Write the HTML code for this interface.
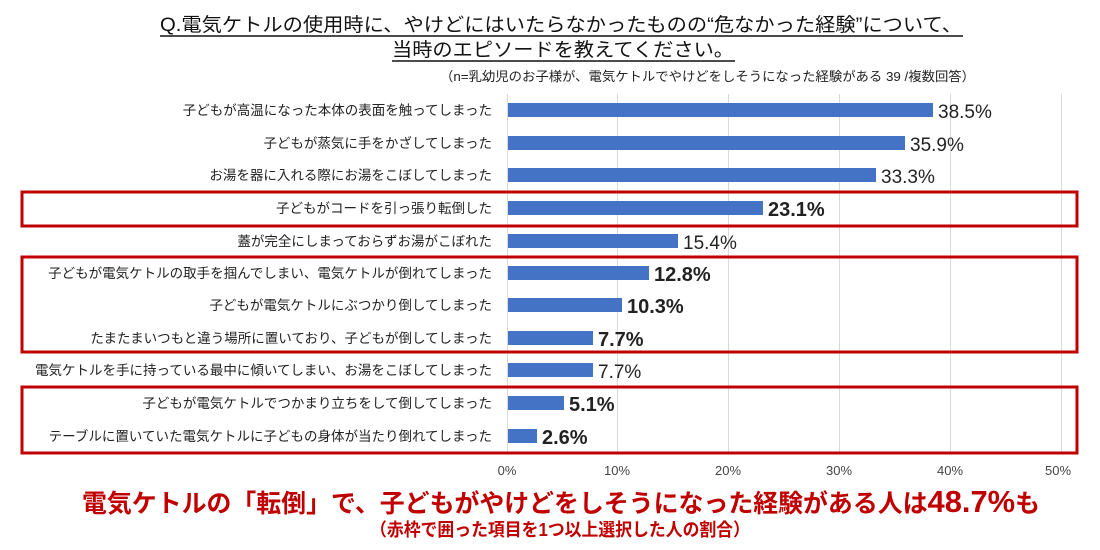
<!DOCTYPE html>
<html><head><meta charset="utf-8"><style>body{margin:0;background:#fff}svg{display:block}</style></head><body>
<svg width="1100" height="550" xmlns="http://www.w3.org/2000/svg" font-family="'Liberation Sans','Noto Sans CJK JP',sans-serif">
<rect width="1100" height="550" fill="#fff"/>
<text x="561" y="31" font-size="19" text-anchor="middle" textLength="802" lengthAdjust="spacingAndGlyphs" fill="#111">Q.電気ケトルの使用時に、やけどにはいたらなかったものの“危なかった経験”について、</text>
<line x1="160" y1="36" x2="963" y2="36" stroke="#111" stroke-width="1.5"/>
<text x="563" y="56" font-size="19" text-anchor="middle" textLength="342" lengthAdjust="spacingAndGlyphs" fill="#111">当時のエピソードを教えてください。</text>
<line x1="392" y1="61" x2="735" y2="61" stroke="#111" stroke-width="1.5"/>
<text x="975" y="81" font-size="13" text-anchor="end" textLength="535" lengthAdjust="spacingAndGlyphs" fill="#222">（n=乳幼児のお子様が、電気ケトルでやけどをしそうになった経験がある 39 /複数回答）</text>
<g stroke="#d9d9d9" stroke-width="1">
<line x1="617.5" y1="94" x2="617.5" y2="454"/><line x1="728.5" y1="94" x2="728.5" y2="454"/><line x1="839.5" y1="94" x2="839.5" y2="454"/><line x1="950.5" y1="94" x2="950.5" y2="454"/><line x1="1061.5" y1="94" x2="1061.5" y2="454"/>
<line x1="507.5" y1="94" x2="507.5" y2="454"/>
</g>
<g font-size="13.5" fill="#222" text-anchor="end">
<text x="492" y="115">子どもが高温になった本体の表面を触ってしまった</text>
<text x="492" y="148">子どもが蒸気に手をかざしてしまった</text>
<text x="492" y="180">お湯を器に入れる際にお湯をこぼしてしまった</text>
<text x="492" y="213">子どもがコードを引っ張り転倒した</text>
<text x="492" y="246">蓋が完全にしまっておらずお湯がこぼれた</text>
<text x="492" y="278">子どもが電気ケトルの取手を掴んでしまい、電気ケトルが倒れてしまった</text>
<text x="492" y="310">子どもが電気ケトルにぶつかり倒してしまった</text>
<text x="492" y="343">たまたまいつもと違う場所に置いており、子どもが倒してしまった</text>
<text x="492" y="375">電気ケトルを手に持っている最中に傾いてしまい、お湯をこぼしてしまった</text>
<text x="492" y="408">子どもが電気ケトルでつかまり立ちをして倒してしまった</text>
<text x="492" y="441">テーブルに置いていた電気ケトルに子どもの身体が当たり倒れてしまった</text>
</g>
<g fill="#4472c4">
<rect x="508" y="103" width="425" height="14"/>
<rect x="508" y="136" width="397" height="14"/>
<rect x="508" y="168" width="368" height="14"/>
<rect x="508" y="201" width="255" height="14"/>
<rect x="508" y="234" width="170" height="14"/>
<rect x="508" y="266" width="141" height="14"/>
<rect x="508" y="298" width="114" height="14"/>
<rect x="508" y="331" width="85" height="14"/>
<rect x="508" y="363" width="85" height="14"/>
<rect x="508" y="396" width="56" height="14"/>
<rect x="508" y="429" width="29" height="14"/>
</g>
<g font-size="19" fill="#222">
<text x="938" y="118">38.5%</text>
<text x="910" y="151">35.9%</text>
<text x="881" y="183">33.3%</text>
<text x="768" y="216" font-weight="bold" font-size="20">23.1%</text>
<text x="683" y="249">15.4%</text>
<text x="654" y="281" font-weight="bold" font-size="20">12.8%</text>
<text x="627" y="313" font-weight="bold" font-size="20">10.3%</text>
<text x="598" y="346" font-weight="bold" font-size="20">7.7%</text>
<text x="598" y="378">7.7%</text>
<text x="569" y="411" font-weight="bold" font-size="20">5.1%</text>
<text x="542" y="444" font-weight="bold" font-size="20">2.6%</text>
</g>
<g fill="none" stroke="#c00000" stroke-width="3">
<rect x="22" y="192" width="1055" height="34"/>
<rect x="22" y="257" width="1055" height="95"/>
<rect x="22" y="387" width="1055" height="66"/>
</g>
<g font-size="13" fill="#444" text-anchor="middle">
<text x="507" y="475">0%</text><text x="617" y="475">10%</text><text x="728" y="475">20%</text><text x="839" y="475">30%</text><text x="950" y="475">40%</text><text x="1058" y="475">50%</text>
</g>
<text x="82" y="512" font-size="25" font-weight="bold" fill="#c00000" textLength="958" lengthAdjust="spacingAndGlyphs">電気ケトルの「転倒」で、子どもがやけどをしそうになった経験がある人は<tspan font-size="31">48.7%</tspan>も</text>
<text x="560" y="536" font-size="18" font-weight="bold" fill="#c00000" text-anchor="middle" textLength="380" lengthAdjust="spacingAndGlyphs">（赤枠で囲った項目を1つ以上選択した人の割合）</text>
</svg>
</body></html>
